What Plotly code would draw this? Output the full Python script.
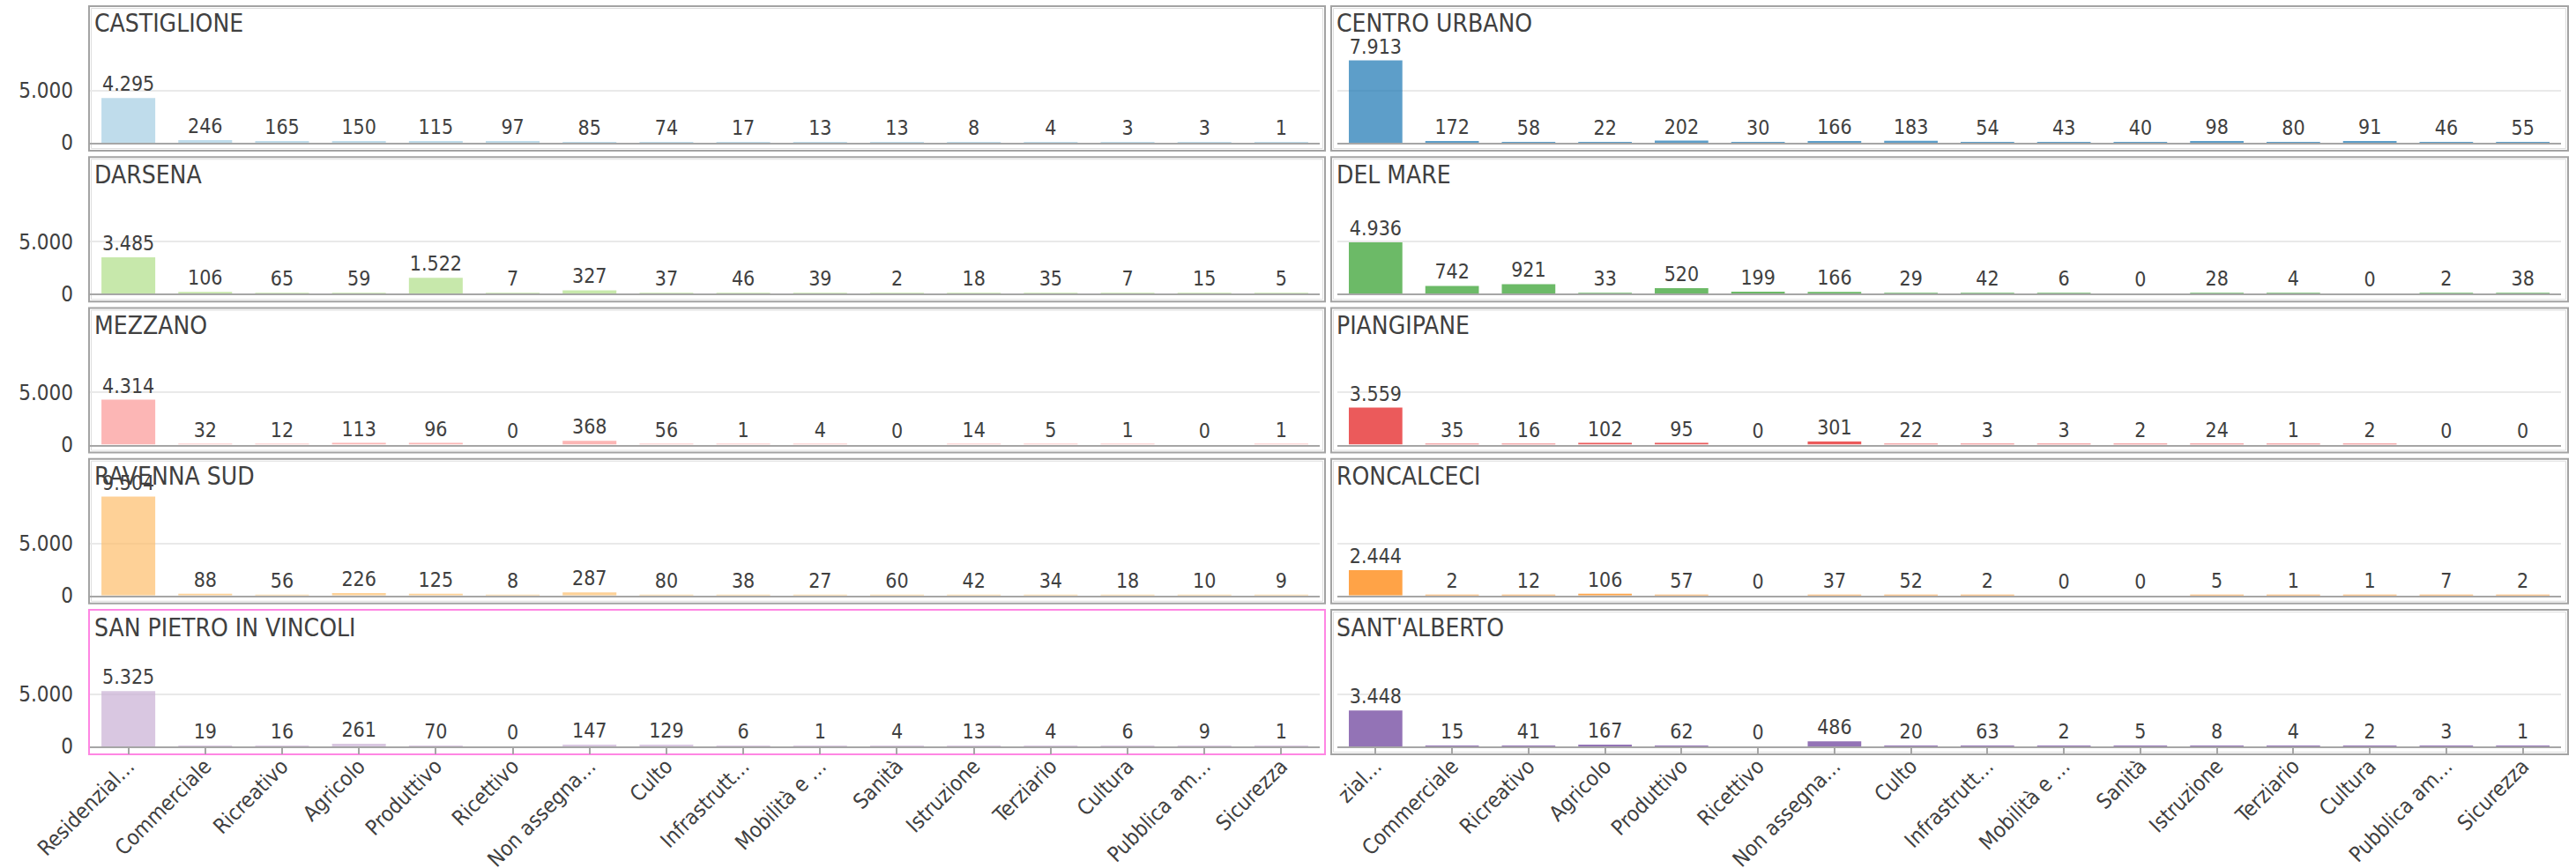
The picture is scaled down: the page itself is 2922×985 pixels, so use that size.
import plotly.graph_objects as go

categories = ["Residenzial…", "Commerciale", "Ricreativo", "Agricolo", "Produttivo", "Ricettivo",
              "Non assegna…", "Culto", "Infrastrutt…", "Mobilità e …", "Sanità", "Istruzione",
              "Terziario", "Cultura", "Pubblica am…", "Sicurezza"]
# the right column's first tick label is clipped by the panel edge in the reference
tick_labels_left = list(categories)
tick_labels_right = ["zial…"] + categories[1:]

zones = ["CASTIGLIONE", "CENTRO URBANO", "DARSENA", "DEL MARE", "MEZZANO", "PIANGIPANE",
         "RAVENNA SUD", "RONCALCECI", "SAN PIETRO IN VINCOLI", "SANT'ALBERTO"]

castiglione = [4295, 246, 165, 150, 115, 97, 85, 74, 17, 13, 13, 8, 4, 3, 3, 1]
centro_urbano = [7913, 172, 58, 22, 202, 30, 166, 183, 54, 43, 40, 98, 80, 91, 46, 55]
darsena = [3485, 106, 65, 59, 1522, 7, 327, 37, 46, 39, 2, 18, 35, 7, 15, 5]
del_mare = [4936, 742, 921, 33, 520, 199, 166, 29, 42, 6, 0, 28, 4, 0, 2, 38]
mezzano = [4314, 32, 12, 113, 96, 0, 368, 56, 1, 4, 0, 14, 5, 1, 0, 1]
piangipane = [3559, 35, 16, 102, 95, 0, 301, 22, 3, 3, 2, 24, 1, 2, 0, 0]
ravenna_sud = [9504, 88, 56, 226, 125, 8, 287, 80, 38, 27, 60, 42, 34, 18, 10, 9]
roncalceci = [2444, 2, 12, 106, 57, 0, 37, 52, 2, 0, 0, 5, 1, 1, 7, 2]
san_pietro = [5325, 19, 16, 261, 70, 0, 147, 129, 6, 1, 4, 13, 4, 6, 9, 1]
sant_alberto = [3448, 15, 41, 167, 62, 0, 486, 20, 63, 2, 5, 8, 4, 2, 3, 1]

series = [castiglione, centro_urbano, darsena, del_mare, mezzano, piangipane,
          ravenna_sud, roncalceci, san_pietro, sant_alberto]

colors = ["#a6cee3", "#1f78b4", "#b2df8a", "#33a02c", "#fb9a99", "#e31a1c",
          "#fdbf6f", "#ff7f00", "#cab2d6", "#6a3d9a"]

ytick_vals = [0, 5000]

W, H = 2922, 985
FONT = "DejaVu Sans Condensed, DejaVu Sans, sans-serif"
TXT = "#404040"

col_plot = [(102, 1497), (1517, 2905)]
col_border = [(101, 1503), (1510, 2913)]
row_step = 171.25
Y_MAX = 12880


def px_x(p):
    return p / W


def px_y(p):
    return 1 - p / H


fig = go.Figure()
layout_axes = {}
shapes = []
annotations = []

for i, (zone, vals, col) in enumerate(zip(zones, series, colors)):
    r, c = divmod(i, 2)
    idx = i + 1
    xa = "x" if idx == 1 else f"x{idx}"
    ya = "y" if idx == 1 else f"y{idx}"
    fig.add_trace(go.Bar(
        x=list(range(len(categories))), y=vals,
        xaxis=xa, yaxis=ya,
        marker=dict(color=col, opacity=0.72, line=dict(width=0)),
        texttemplate="%{y:,}", textposition="outside",
        textfont=dict(family=FONT, size=23, color=TXT),
        cliponaxis=False, constraintext="none", showlegend=False,
    ))
    y0 = 162 + row_step * r
    ytop = y0 - 152
    x0, x1 = col_plot[c]
    bottom = (r == 4)
    layout_axes["xaxis" if idx == 1 else f"xaxis{idx}"] = dict(
        domain=[px_x(x0), px_x(x1)], anchor=ya, automargin=False,
        range=[-0.5, len(categories) - 0.5],
        tickvals=list(range(len(categories))),
        ticktext=tick_labels_left if c == 0 else tick_labels_right,
        showticklabels=bottom, tickangle=-45, ticklabelstandoff=-10,
        ticks="outside" if bottom else "", ticklen=7, tickwidth=2, tickcolor="#a6a6a6",
        tickfont=dict(family=FONT, size=24, color=TXT),
        showline=True, linecolor="#a6a6a6", linewidth=2,
        showgrid=False, zeroline=False, fixedrange=True,
    )
    layout_axes["yaxis" if idx == 1 else f"yaxis{idx}"] = dict(
        domain=[px_y(y0), px_y(ytop)], anchor=xa, automargin=False,
        range=[0, Y_MAX], tickvals=ytick_vals, tickformat=",",
        showticklabels=(c == 0), ticks="", ticklabelstandoff=18,
        tickfont=dict(family=FONT, size=24, color=TXT),
        showgrid=True, gridcolor="#e9e9e9", gridwidth=2,
        zeroline=False, showline=False, fixedrange=True,
    )
    bx0, bx1 = col_border[c]
    by0 = 7 + row_step * r
    by1 = 171 + row_step * r
    selected = (zone == "SAN PIETRO IN VINCOLI")
    if selected:
        shapes.append(dict(type="rect", xref="paper", yref="paper",
                           x0=px_x(bx0), x1=px_x(bx1), y0=px_y(by1), y1=px_y(by0),
                           line=dict(color="#ff86e3", width=2), layer="below"))
    else:
        shapes.append(dict(type="rect", xref="paper", yref="paper",
                           x0=px_x(bx0), x1=px_x(bx1), y0=px_y(by1), y1=px_y(by0),
                           line=dict(color="#a3a3a3", width=2), layer="below"))
        shapes.append(dict(type="rect", xref="paper", yref="paper",
                           x0=px_x(bx0 + 2.5), x1=px_x(bx1 - 2.5), y0=px_y(by1 - 2.5), y1=px_y(by0 + 2.5),
                           line=dict(color="#dedede", width=1), layer="below"))
    annotations.append(dict(
        text=zone, xref="paper", yref="paper",
        x=px_x(bx0 + 4), y=px_y(by0 + 20), xanchor="left", yanchor="middle",
        showarrow=False, font=dict(family=FONT, size=28, color=TXT),
    ))

fig.update_layout(
    width=W, height=H,
    margin=dict(l=0, r=0, t=0, b=0, autoexpand=False),
    paper_bgcolor="white", plot_bgcolor="white",
    separators=",.",
    bargap=0.3,
    shapes=shapes, annotations=annotations,
    font=dict(family=FONT, color=TXT),
    **layout_axes,
)

fig.write_html("out.html", config={"displayModeBar": False},
               post_script="document.body.style.margin='0';document.body.style.overflow='hidden';")
